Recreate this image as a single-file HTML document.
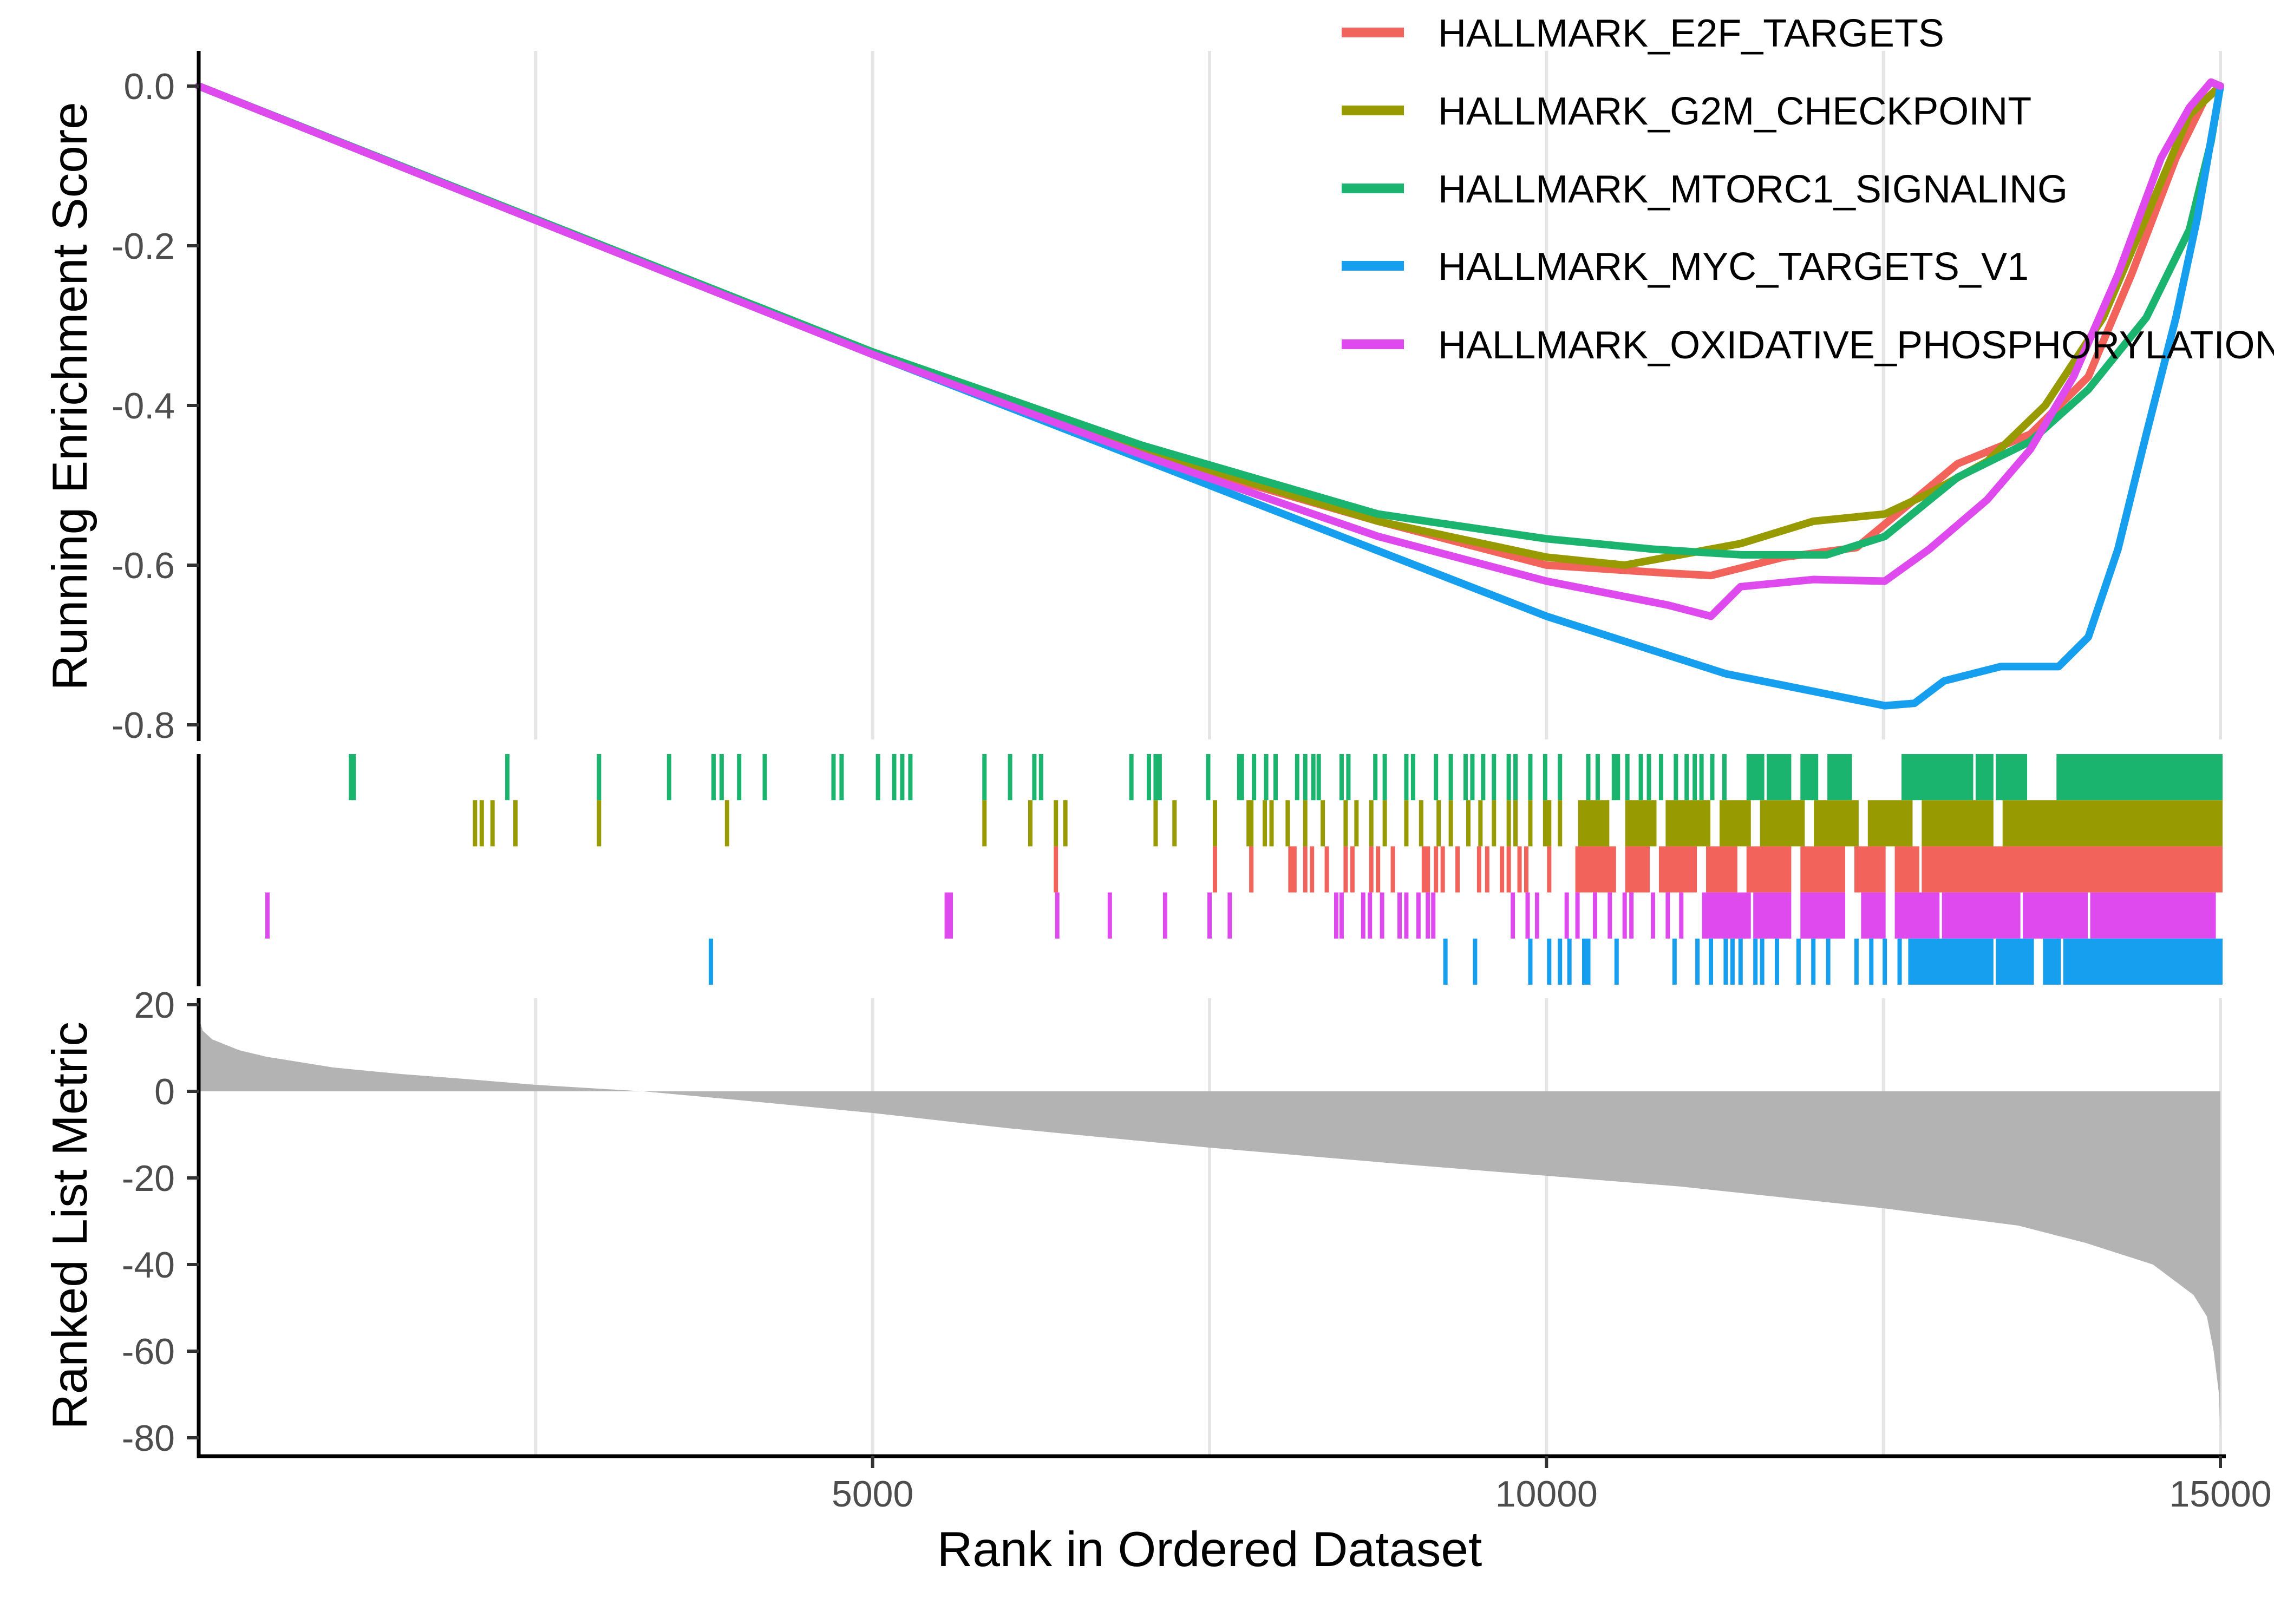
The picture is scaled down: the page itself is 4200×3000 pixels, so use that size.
<!DOCTYPE html>
<html><head><meta charset="utf-8"><style>
html,body{margin:0;padding:0;background:#fff}
svg{display:block}
text{font-family:"Liberation Sans",Arial,sans-serif}
</style></head><body>
<svg id="chart" width="4200" height="3000" viewBox="0 0 4200 3000" xmlns="http://www.w3.org/2000/svg">
<rect width="4200" height="3000" fill="#fff"/>
<g id="grid"></g><g id="metric"></g><g id="rug"></g><g id="curves"></g><g id="axes"></g><g id="legend"></g>
</svg>
<script>
const seriesNames=["HALLMARK_E2F_TARGETS","HALLMARK_G2M_CHECKPOINT","HALLMARK_MTORC1_SIGNALING","HALLMARK_MYC_TARGETS_V1","HALLMARK_OXIDATIVE_PHOSPHORYLATION"];
const seriesColors=["#F2635B","#979A00","#1BB46E","#169FEE","#DE4AEE"];
const xTicks=[5000,10000,15000];
const xGrid=[2500,5000,7500,10000,12500,15000];
const esTicks=[0,-0.2,-0.4,-0.6,-0.8];
const esTickLabels=["0.0","-0.2","-0.4","-0.6","-0.8"];
const metricTicks=[20,0,-20,-40,-60,-80];
// running ES: rank / value
const e2fRank=[0,5000,7000,8750,10000,10900,11220,11760,12300,12730,13050,13590,14020,14340,14670,14880,15000];
const e2fES=[0,-0.336,-0.46,-0.545,-0.6,-0.61,-0.613,-0.59,-0.578,-0.518,-0.473,-0.436,-0.364,-0.236,-0.09,-0.018,0];
const g2mRank=[0,5000,7000,8750,10000,10580,11440,11980,12510,12840,13270,13700,14130,14450,14770,15000];
const g2mES=[0,-0.336,-0.455,-0.545,-0.59,-0.6,-0.573,-0.545,-0.536,-0.51,-0.47,-0.4,-0.29,-0.164,-0.036,0];
const mtorRank=[0,5000,7000,8750,10000,10790,11440,12080,12510,13050,13590,14020,14450,14770,14930,15000];
const mtorES=[0,-0.333,-0.45,-0.536,-0.567,-0.58,-0.587,-0.587,-0.564,-0.49,-0.445,-0.38,-0.29,-0.18,-0.07,0];
const mycRank=[0,5000,7500,10000,11330,12510,12730,12950,13370,13800,14020,14240,14450,14670,14830,15000];
const mycES=[0,-0.336,-0.5,-0.664,-0.736,-0.776,-0.773,-0.745,-0.727,-0.727,-0.69,-0.58,-0.436,-0.29,-0.164,0];
const oxRank=[0,5000,7000,8750,10000,10900,11220,11440,11980,12510,12840,13270,13590,13910,14240,14560,14770,14930,15000];
const oxES=[0,-0.336,-0.462,-0.564,-0.62,-0.65,-0.664,-0.627,-0.618,-0.62,-0.58,-0.518,-0.455,-0.364,-0.236,-0.09,-0.027,0.005,0];
// rug hits (gene ranks) and dense hit blocks [start,end]
const mtorHits=[1130,1150,2290,2970,3490,3820,3880,4010,4200,4710,4770,5040,5160,5220,5280,5830,6020,6200,6250,6920,7050,7100,7130,7490,7720,7740,7830,7920,7990,8150,8210,8270,8310,8480,8530,8730,8800,8960,9010,9180,9290,9400,9450,9530,9610,9720,9770,9880,9990,10100,10310,10380,10500,10530,10600,10700,10760,10850,10960,11040,11100,11150,11230,11320];
const mtorBlocks=[[11500,11600],[11650,11800],[11900,12000],[12100,12250],[12650,13150],[13200,13300],[13350,13550],[13800,15000]];
const g2mHits=[2050,2100,2180,2350,2970,3920,5830,6170,6360,6430,7100,7240,7540,7790,7810,7910,7960,8080,8210,8340,8510,8590,8700,8800,8960,9070,9200,9290,9420,9510,9610,9720,9770,9880,9990,10020,10100];
const g2mBlocks=[[10250,10450],[10600,10800],[10900,11200],[11300,11500],[11600,11900],[12000,12300],[12400,12700],[12800,13300],[13400,15000]];
const e2fHits=[6360,7540,7810,8100,8130,8210,8260,8370,8510,8560,8700,8750,8860,9090,9120,9180,9230,9340,9500,9560,9670,9720,9800,9850,10020];
const e2fBlocks=[[10230,10500],[10600,10750],[10850,11100],[11200,11400],[11500,11800],[11900,12200],[12300,12500],[12600,12750],[12800,15000]];
const oxHits=[510,5550,5580,6370,6760,7170,7500,7650,8440,8480,8640,8690,8780,8910,8960,9050,9120,9160,9750,9860,9930,10150,10230,10360,10470,10580,10630,10790,10900,11000];
const oxBlocks=[[11170,11500],[11550,11800],[11900,12200],[12350,12500],[12600,12900],[12950,13500],[13550,14000],[14050,14950]];
const mycHits=[3800,9250,9470,9880,10020,10100,10170,10280,10310,10520,10950,11120,11220,11330,11380,11440,11550,11600,11710,11870,11980,12090,12300,12410,12510,12620];
const mycBlocks=[[12700,13300],[13350,13600],[13700,13800],[13850,15000]];
// ranked list metric
const metricRank=[0,30,100,300,500,1000,1500,2000,2500,3300,4000,5000,6000,7500,9000,10000,11000,12500,13500,14000,14500,14800,14900,14950,14990,15000];
const metricVal=[17,14,12,9.5,8,5.5,4,2.8,1.5,0,-2,-5,-8.5,-13,-17,-19.5,-22,-27,-31,-35,-40,-47,-52,-60,-70,-80];

const NS="http://www.w3.org/2000/svg";
function mk(tag,attrs,parent){const e=document.createElementNS(NS,tag);for(const k in attrs)e.setAttribute(k,attrs[k]);parent.appendChild(e);return e;}
const X0=367,X1=4101;
const xs=v=>X0+(v/15000)*(X1-X0);
const ysES=v=>159+(v/-0.8)*(1339-159);
const ysM=v=>2016-(v/20)*160;
const P1=[94,1366],P2=[1393,1819],P3=[1844,2690];

const grid=document.getElementById('grid');
xGrid.forEach(g=>{[P1,P3].forEach(p=>{
 const l=mk('line',{x1:xs(g),x2:xs(g),y1:p[0],y2:p[1],stroke:'#e5e5e5','stroke-width':6},grid);
 
 
});});

const mg=document.getElementById('metric');
let d='M'+xs(0)+','+ysM(0);
metricRank.forEach((r,i)=>{d+=' L'+xs(r)+','+ysM(metricVal[i]);});
d+=' L'+xs(15000)+','+ysM(0)+' Z';
const ma=mk('path',{d:d,fill:'#b3b3b3',stroke:'none'},mg);



const rug=document.getElementById('rug');
const rugRows=[[mtorHits,mtorBlocks,2],[g2mHits,g2mBlocks,1],[e2fHits,e2fBlocks,0],[oxHits,oxBlocks,4],[mycHits,mycBlocks,3]];
const rowH=(P2[1]-P2[0])/5;
rugRows.forEach((row,ri)=>{
 const y0=P2[0]+ri*rowH,c=seriesColors[row[2]];
 row[0].forEach(h=>{
  const r=mk('rect',{x:xs(h)-4,y:y0,width:8,height:rowH,fill:c},rug);
  
  
 });
 row[1].forEach(b=>{
  const r=mk('rect',{x:xs(b[0])-4,y:y0,width:xs(b[1])-xs(b[0])+8,height:rowH,fill:c},rug);
  
  
 });
});

const cg=document.getElementById('curves');
const curveData=[[e2fRank,e2fES,0],[g2mRank,g2mES,1],[mtorRank,mtorES,2],[mycRank,mycES,3],[oxRank,oxES,4]];
curveData.forEach(cd=>{
 const pts=cd[0].map((r,i)=>xs(r)+','+ysES(cd[1][i])).join(' ');
 const pl=mk('polyline',{points:pts,fill:'none',stroke:seriesColors[cd[2]],'stroke-width':14,'stroke-linejoin':'round','stroke-linecap':'round'},cg);
 
 
});

const ax=document.getElementById('axes');
[P1,P2,P3].forEach(p=>{
 const l=mk('line',{x1:X0,x2:X0,y1:p[0],y2:p[1]+3,stroke:'#000','stroke-width':7},ax);
 
 
});
const xl=mk('line',{x1:X0-3,x2:X1+10,y1:P3[1],y2:P3[1],stroke:'#000','stroke-width':7},ax);


esTicks.forEach((t,i)=>{
 const tk=mk('line',{x1:X0-22,x2:X0,y1:ysES(t),y2:ysES(t),stroke:'#333','stroke-width':6},ax);
 
 
 const tx=mk('text',{x:X0-44,y:ysES(t)+24,'text-anchor':'end','font-size':68,fill:'#4d4d4d'},ax);
 tx.textContent=esTickLabels[i];
 
 
});
metricTicks.forEach(t=>{
 const tk=mk('line',{x1:X0-22,x2:X0,y1:ysM(t),y2:ysM(t),stroke:'#333','stroke-width':6},ax);
 
 
 const tx=mk('text',{x:X0-44,y:ysM(t)+24,'text-anchor':'end','font-size':68,fill:'#4d4d4d'},ax);
 tx.textContent=String(t);
 
 
});
xTicks.forEach(t=>{
 const tk=mk('line',{x1:xs(t),x2:xs(t),y1:P3[1],y2:P3[1]+22,stroke:'#333','stroke-width':6},ax);
 
 
 const tx=mk('text',{x:xs(t),y:2783,'text-anchor':'middle','font-size':68,fill:'#4d4d4d'},ax);
 tx.textContent=String(t);
 
 
});
const yt1=mk('text',{x:0,y:0,'text-anchor':'middle','font-size':91,fill:'#000',transform:'translate(160,732) rotate(-90)'},ax);
yt1.textContent='Running Enrichment Score';


const yt2=mk('text',{x:0,y:0,'text-anchor':'middle','font-size':91,fill:'#000',transform:'translate(160,2264) rotate(-90)'},ax);
yt2.textContent='Ranked List Metric';


const xt=mk('text',{x:2234,y:2893,'text-anchor':'middle','font-size':91,fill:'#000'},ax);
xt.textContent='Rank in Ordered Dataset';



const lg=document.getElementById('legend');
const legendY=[60,204,348,491,636];
seriesNames.forEach((n,i)=>{
 const k=mk('rect',{x:2478,y:legendY[i]-9,width:115,height:18,fill:seriesColors[i]},lg);
 
 
 const t=mk('text',{x:2656,y:legendY[i]+26,'font-size':72,fill:'#000'},lg);
 t.textContent=n;
 
 
});
</script>
</body></html>
